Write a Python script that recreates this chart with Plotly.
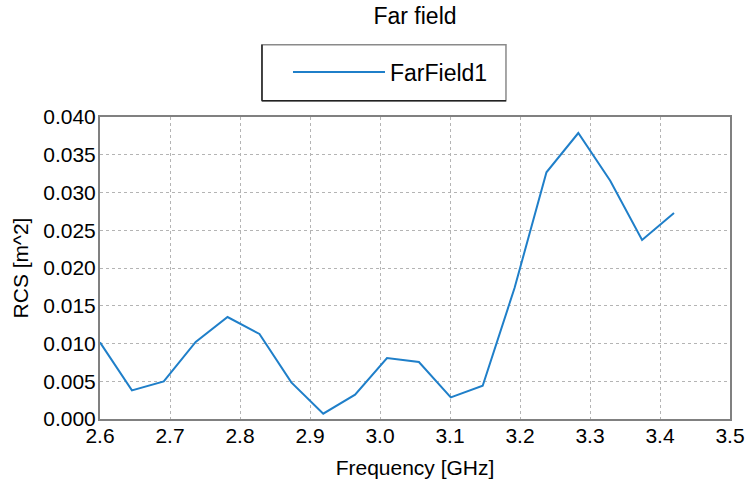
import plotly.graph_objects as go

freq_ghz = [2.6, 2.6456, 2.6911, 2.7367, 2.7822, 2.8278, 2.8733, 2.9189, 2.9644,
            3.01, 3.0556, 3.1011, 3.1467, 3.1922, 3.2378, 3.2833, 3.3289, 3.3744, 3.42]
rcs_m2 = [0.01015, 0.00379, 0.00498, 0.0102, 0.01351, 0.01126, 0.00485, 0.0007, 0.00322,
          0.00808, 0.00755, 0.00286, 0.00441, 0.01735, 0.03267, 0.03788, 0.03156, 0.02371, 0.02728]
series_name = "FarField1"
x_ticks = [2.6, 2.7, 2.8, 2.9, 3.0, 3.1, 3.2, 3.3, 3.4, 3.5]
y_ticks = [0.0, 0.005, 0.01, 0.015, 0.02, 0.025, 0.03, 0.035, 0.04]

FONT = "Liberation Sans, Arial, sans-serif"

fig = go.Figure()
fig.add_trace(go.Scatter(x=freq_ghz, y=rcs_m2, mode="lines", name=series_name,
                         line=dict(color="#1f7fc9", width=2)))

# legend frame (paper coordinates; plot area is 630 x 302 px)
lx0, lx1, ly0, ly1 = 0.2571, 0.6444, 1.054, 1.2394
shapes = [
    dict(type="rect", xref="paper", yref="paper", x0=lx0, x1=lx1, y0=ly0, y1=ly1,
         line=dict(color="#8a8a8a", width=1.5), fillcolor="rgba(0,0,0,0)", layer="below"),
    dict(type="line", xref="paper", yref="paper", x0=lx0, x1=lx1, y0=ly0, y1=ly0,
         line=dict(color="#222222", width=1.5)),
    dict(type="line", xref="paper", yref="paper", x0=lx0, x1=lx0, y0=ly0, y1=ly1,
         line=dict(color="#222222", width=1.5)),
]

fig.update_layout(
    width=746, height=485,
    margin=dict(l=100, r=16, t=117, b=66, autoexpand=False),
    paper_bgcolor="white", plot_bgcolor="white",
    font=dict(family=FONT, size=21, color="black"),
    title=dict(text="Far field", x=0.5, xref="paper", xanchor="center",
               y=1 - 16 / 485, yref="container", yanchor="middle",
               font=dict(size=23, color="black")),
    showlegend=True,
    legend=dict(x=0.2984, y=1.149, xanchor="left", yanchor="middle",
                borderwidth=0, bgcolor="rgba(0,0,0,0)",
                font=dict(size=23, color="black"),
                itemwidth=92),
    shapes=shapes,
)
fig.update_xaxes(range=[2.6, 3.5], tickvals=x_ticks, tickformat=".1f",
                 showgrid=True, gridcolor="#b4b4b4", griddash="3px,3px", gridwidth=1,
                 showline=True, mirror=True, linecolor="#808080", linewidth=2,
                 zeroline=False, ticks="", ticklabelstandoff=-3,
                 title=dict(text="Frequency [GHz]", standoff=14,
                            font=dict(size=21)))
fig.update_yaxes(range=[0, 0.04], tickvals=y_ticks, tickformat=".3f",
                 showgrid=True, gridcolor="#b4b4b4", griddash="3px,3px", gridwidth=1,
                 showline=True, mirror=True, linecolor="#808080", linewidth=2,
                 zeroline=False, ticks="", ticklabelstandoff=-2,
                 title=dict(text="RCS [m^2]", standoff=9, font=dict(size=21)))

# remove the default 8px page margin so the figure fills the window exactly
fig.write_html("out.html",
               config={"displayModeBar": False},
               post_script="document.body.style.margin='0';document.body.style.overflow='hidden';")
